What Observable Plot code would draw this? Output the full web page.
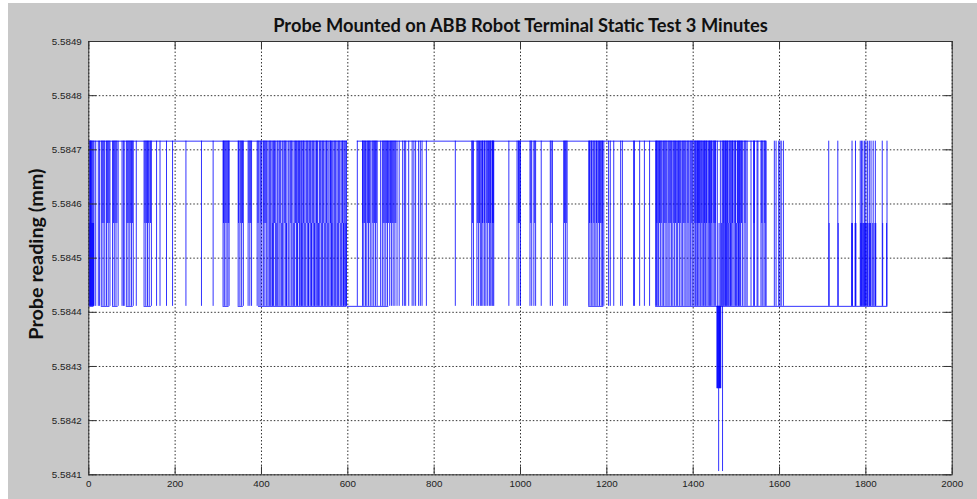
<!DOCTYPE html>
<html><head><meta charset="utf-8">
<script src="https://cdn.jsdelivr.net/npm/d3@7"></script>
<script src="https://cdn.jsdelivr.net/npm/@observablehq/plot@0.6"></script>
<style>
html,body{margin:0;padding:0;background:#fff;}
#wrap{width:977px;height:499px;background:#fff;padding:3px 0 0 8px;box-sizing:border-box;overflow:hidden;}
#wrap svg{display:block;max-width:none;}
</style></head><body><div id="wrap"></div>
<script>
const chartTitle = "Probe Mounted on ABB Robot Terminal Static Test 3 Minutes";
const yLabel = "Probe reading (mm)";
const xTicks = [0, 200, 400, 600, 800, 1000, 1200, 1400, 1600, 1800, 2000];
const yTicks = [5.5841, 5.5842, 5.5843, 5.5844, 5.5845, 5.5846, 5.5847, 5.5848, 5.5849];

// reading levels (mm)
const levelHigh = 5.584716;
const levelMid = 5.584564;
const levelLow = 5.584411;
const levelDip1 = 5.584259;
const levelDip2 = 5.584106;

// sample index ranges where the reading sits on a level
const highSegments = [[0, 599], [622, 1569]];
const lowSegments = [[2, 12], [29, 49], [55, 68], [87, 103], [128, 145], [311, 325], [346, 358], [393, 598], [599, 695], [1158, 1193], [1313, 1851]];

// sample indices of jumps spanning low <-> high
const fullStrokes = [2,4,6,8,10,12,16,22,25,29,33,37,41,45,49,55,59,63,68,77,80,82,87,91,95,99,103,110,128,132,136,140,145,157,165,180,194,225,261,288,311,314,318,322,325,346,350,354,358,369,373,377,390,394,397,401,405,408,412,
415,418,422,425,428,432,436,438,441,445,449,452,456,459,463,466,470,473,477,481,484,488,491,493,496,499,503,507,510,514,517,521,524,527,530,534,538,541,545,549,552,556,559,562,565,568,572,575,578,582,586,589,592,595,597,
622,634,637,641,644,648,652,656,660,664,668,676,680,684,688,692,697,701,705,709,714,719,727,731,734,741,749,753,757,764,768,772,782,
849,887,891,899,903,907,910,913,917,920,924,928,931,934,936,938,973,992,996,1000,1022,1026,1031,1035,1048,1069,1074,1100,1104,1108,1158,1161,1165,1168,1172,1175,1179,1183,1187,1190,1193,1204,1208,1216,1232,1236,1262,1264,1276,1287,1299,
1313,1315,1318,1320,1324,1328,1331,1335,1339,1342,1346,1350,1353,1357,1361,1364,1368,1372,1375,1379,1383,1386,1390,1393,1395,1399,1402,1405,1407,1410,1413,1416,1418,1421,1424,1427,1429,1432,1435,1438,1440,1443,1446,1449,1452,1456,1463,1467,1469,1472,1475,1477,1480,1483,1486,1489,1492,1495,1498,1502,1505,1508,1510,1514,1518,1522,1525,1534,1540,1542,1548,1550,1557,1560,1564,1567,1569,
1588,1592,1598,1601,1604,1609,
1714,1735,1768,1776,1787,1790,1793,1797,1800,1804,1808,1812,1817,1822,1838,1849];

// jumps spanning mid <-> high
const upperStrokes = [3,5,31,35,43,47,57,61,65,89,93,97,101,130,134,138,143,312,316,320,324,347,352,356,371,375,392,399,406,410,420,430,443,454,468,479,486,497,505,512,519,528,536,543,551,560,570,580,588,
635,639,646,650,658,662,666,682,686,690,694,699,703,707,711,
889,901,905,912,916,922,926,930,935,937,995,998,1024,1033,1071,1102,1106,1160,1164,1170,1176,1181,1185,1189,
1316,1322,1326,1333,1337,1344,1348,1355,1359,1366,1370,1377,1381,1388,1397,1404,1409,1412,1415,1420,1426,1431,1437,1442,1448,1451,1470,1474,1479,1485,1491,1497,1503,1507,1512,1520,1541,1559,1566];

// jumps spanning low <-> mid
const lowerStrokes = [1,3,5,7,9,11,420,426,434,447,458,475,483,494,501,509,516,523,532,540,547,554,563,570,577,584,590,596,
1460,1466,1471,1476,1481,1486,1500,1506,
1715,1736,1767,1769,1775,1777,1788,1791,1794,1796,1799,1802,1805,1809,1811,1816,1821,1823,1839,1848];

// downward dips below the low level
const dip1Strokes = [1455,1456,1457,1458,1460,1461,1462,1463,1464];
const dip2Strokes = [1459,1468];

const W = 969, H = 496, mL = 80.3, mR = 25.3, mT = 38, mB = 24.7;
const innerW = W - mL - mR, innerH = H - mT - mB;
const tickLen = 8;

const blue = "#0000ff";
const lineStyle = {stroke: blue, strokeWidth: 1, strokeOpacity: 0.8};
const axisColor = "#333";

const chart = Plot.plot({
  width: W,
  height: H,
  marginLeft: mL,
  marginRight: mR,
  marginTop: mT,
  marginBottom: mB,
  style: {background: "#c8c8c8", fontFamily: "'Liberation Sans', Arial, sans-serif", fontSize: "9.8px", color: "#222"},
  x: {domain: [0, 2000]},
  y: {domain: [5.5841, 5.5849]},
  marks: [
    Plot.frame({fill: "white", stroke: null}),
    Plot.gridX(xTicks, {stroke: "#000", strokeOpacity: 0.8, strokeDasharray: "1.5,2"}),
    Plot.gridY(yTicks, {stroke: "#000", strokeOpacity: 0.8, strokeDasharray: "1.5,2"}),
    Plot.ruleY(highSegments, {y: levelHigh, x1: d => d[0], x2: d => d[1], ...lineStyle}),
    Plot.ruleY(lowSegments, {y: levelLow, x1: d => d[0], x2: d => d[1], ...lineStyle}),
    Plot.ruleX(fullStrokes, {x: d => d, y1: levelLow, y2: levelHigh, ...lineStyle}),
    Plot.ruleX(upperStrokes, {x: d => d, y1: levelMid, y2: levelHigh, ...lineStyle}),
    Plot.ruleX(lowerStrokes, {x: d => d, y1: levelLow, y2: levelMid, ...lineStyle}),
    Plot.ruleX(dip1Strokes, {x: d => d, y1: levelDip1, y2: levelLow, ...lineStyle}),
    Plot.ruleX(dip2Strokes, {x: d => d, y1: levelDip2, y2: levelLow, ...lineStyle}),
    Plot.frame({stroke: axisColor, strokeWidth: 1}),
    // inward ticks on all four sides
    Plot.tickX(xTicks, {x: d => d, insetTop: innerH - tickLen, stroke: axisColor}),
    Plot.tickX(xTicks, {x: d => d, insetBottom: innerH - tickLen, stroke: axisColor}),
    Plot.tickY(yTicks, {y: d => d, insetRight: innerW - tickLen, stroke: axisColor}),
    Plot.tickY(yTicks, {y: d => d, insetLeft: innerW - tickLen, stroke: axisColor}),
    Plot.axisX(xTicks, {anchor: "bottom", tickSize: 0, tickPadding: 5, tickFormat: d => String(d), label: null, fill: "#222"}),
    Plot.axisY(yTicks, {anchor: "left", tickSize: 0, tickPadding: 7, tickFormat: d3.format(".4f"), label: null, fill: "#222"}),
    Plot.text([chartTitle], {text: d => d, frameAnchor: "top", dy: -10, lineAnchor: "bottom", fontSize: 18.3, fontWeight: "bold", fontFamily: "Lato, 'Open Sans', sans-serif", fill: "#111"}),
    Plot.text([yLabel], {text: d => d, frameAnchor: "left", textAnchor: "middle", dx: -52, dy: -4, rotate: -90, fontSize: 18, fontWeight: "bold", fontFamily: "Lato, 'Open Sans', sans-serif", fill: "#111"})
  ]
});
document.getElementById("wrap").appendChild(chart);
// the reference's y label is drawn slightly stretched along its length
d3.select(chart).selectAll("g[aria-label='text'] text").each(function() {
  const t = d3.select(this);
  if (t.text() === yLabel) t.attr("transform", (t.attr("transform") || "") + " scale(1.1,1)");
});
</script>
</body></html>
